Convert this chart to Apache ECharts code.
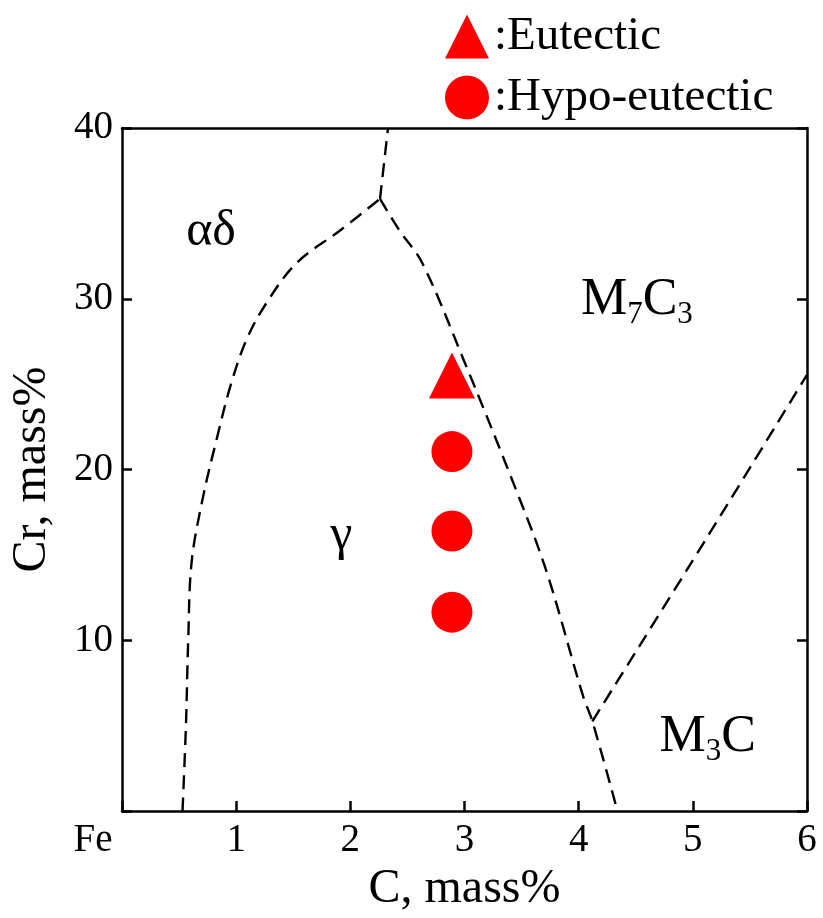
<!DOCTYPE html>
<html><head><meta charset="utf-8">
<script src="https://cdn.jsdelivr.net/npm/echarts@6/dist/echarts.min.js"></script>
<style>html,body{margin:0;padding:0;background:#fff}#c{width:823px;height:918px}</style>
</head><body><div id="c"></div>
<script>
// ---- data (C mass%, Cr mass%) ----
const xTicks = [0, 1, 2, 3, 4, 5, 6];
const xTickLabels = ['Fe', '1', '2', '3', '4', '5', '6'];
const yTickLabels = ['', '10', '20', '30', '40'];
const eutectic = [[2.89, 25.5]];
const hypoEutectic = [[2.89, 21.05], [2.89, 16.4], [2.89, 11.65]];
const lineAlphaGamma = [[0.53, 0], [0.56, 5], [0.58, 10], [0.61, 14.6], [0.71, 18.4], [0.83, 21.8], [0.95, 24.9], [1.09, 27.6], [1.27, 29.8], [1.53, 32.1], [1.91, 34.0], [2.26, 35.85]];
const lineTop = [[2.26, 35.85], [2.33, 40]];
const lineGammaCarbide = [[2.26, 35.85], [2.43, 34.0], [2.63, 32.1], [3.0, 26.3], [3.47, 18.5], [3.72, 14.0], [4.04, 6.7], [4.12, 5.26], [4.34, 0]];
const lineM7M3 = [[4.12, 5.26], [5.15, 16.3], [6.0, 25.55]];
const regionNames = ['αδ', 'γ', '{m|M}{s|7}{m|C}{s|3}', '{m|M}{s|3}{m|C}'];
const regionPos = [[0.78, 33.9], [1.92, 16.1], [4.51, 29.9], [5.13, 4.3]];

const FONT = "'Liberation Serif', 'Times New Roman', serif";
const chart = echarts.init(document.getElementById('c'));
const dash = { color: '#000', width: 2.4, type: [14, 8] };
function lineSeries(d) {
  return { type: 'line', data: d, symbol: 'none', smooth: 0.35, lineStyle: dash, silent: true, z: 2 };
}
const regionData = regionNames.map((n, i) => ({ value: regionPos[i], label: { formatter: n } }));

chart.setOption({
  animation: false,
  textStyle: { fontFamily: FONT },
  grid: { left: 122, right: 16, top: 128, bottom: 106 },
  legend: {
    data: ['Eutectic', 'Hypo-eutectic'], orient: 'vertical', left: 440, top: 8,
    itemWidth: 44, itemHeight: 44, itemGap: 14,
    formatter: ':{name}',
    textStyle: { fontSize: 47, color: '#000', fontFamily: FONT }
  },
  xAxis: [{
    type: 'value', min: 0, max: 6, interval: 1,
    name: 'C, mass%', nameLocation: 'middle', nameGap: 52,
    nameTextStyle: { fontSize: 48, color: '#000', fontFamily: FONT },
    axisLine: { lineStyle: { color: '#000', width: 2.5 } },
    axisTick: { inside: true, length: 10, lineStyle: { color: '#000', width: 2.5 } },
    axisLabel: {
      fontSize: 39, color: '#000', fontFamily: FONT, margin: 10,
      formatter: v => { const i = xTicks.indexOf(v); return i === 0 ? '{fe|' + xTickLabels[0] + '}' : xTickLabels[i]; },
      rich: { fe: { fontSize: 39, fontFamily: FONT, color: '#000', padding: [0, 58, 0, 0] } }
    },
    splitLine: { show: false }
  }, {
    type: 'value', min: 0, max: 6, interval: 1, position: 'top',
    axisLine: { onZero: false, lineStyle: { color: '#000', width: 2.5 } },
    axisTick: { show: false }, axisLabel: { show: false }, splitLine: { show: false }
  }],
  yAxis: [{
    type: 'value', min: 0, max: 40, interval: 10,
    name: 'Cr, mass%', nameLocation: 'middle', nameGap: 66,
    nameTextStyle: { fontSize: 48, color: '#000', fontFamily: FONT },
    axisLine: { lineStyle: { color: '#000', width: 2.5 } },
    axisTick: { inside: true, length: 10, lineStyle: { color: '#000', width: 2.5 } },
    axisLabel: { fontSize: 39, color: '#000', fontFamily: FONT, margin: 9, formatter: v => yTickLabels[v / 10] },
    splitLine: { show: false }
  }, {
    type: 'value', min: 0, max: 40, interval: 10, position: 'right',
    axisLine: { show: true, onZero: false, lineStyle: { color: '#000', width: 2.5 } },
    axisTick: { inside: true, length: 10, lineStyle: { color: '#000', width: 2.5 } },
    axisLabel: { show: false }, splitLine: { show: false }
  }],
  series: [
    lineSeries(lineAlphaGamma),
    lineSeries(lineTop),
    lineSeries(lineGammaCarbide),
    lineSeries(lineM7M3),
    { name: 'Eutectic', type: 'scatter', data: eutectic, symbol: 'triangle', symbolSize: 46, itemStyle: { color: '#ff0000', opacity: 1 }, z: 3 },
    { name: 'Hypo-eutectic', type: 'scatter', data: hypoEutectic, symbol: 'circle', symbolSize: 41, itemStyle: { color: '#ff0000', opacity: 1 }, z: 3 },
    {
      type: 'scatter', data: regionData, symbolSize: 0, silent: true, z: 4,
      itemStyle: { opacity: 1 },
      label: {
        show: true, position: 'inside', color: '#000', fontSize: 50, fontFamily: FONT,
        rich: {
          m: { fontSize: 52, lineHeight: 60, color: '#000', fontFamily: FONT },
          s: { fontSize: 31, color: '#000', fontFamily: FONT, verticalAlign: 'bottom' }
        }
      }
    }
  ]
});
</script></body></html>
